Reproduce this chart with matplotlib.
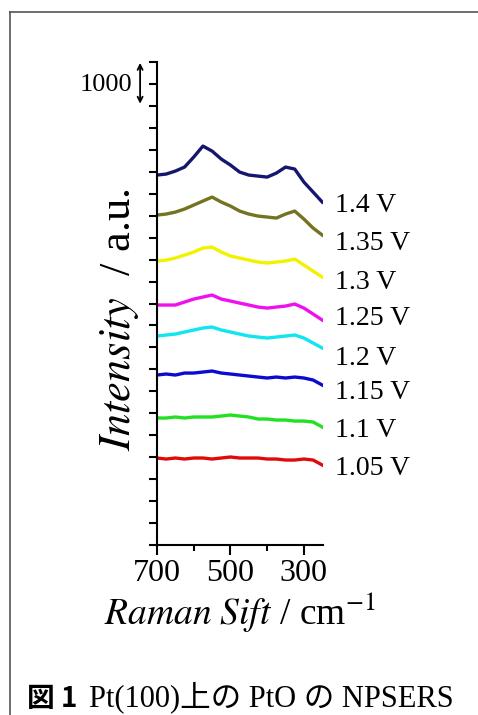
import numpy as np
import matplotlib
matplotlib.use("Agg")
import matplotlib.pyplot as plt
from matplotlib.lines import Line2D

# Raman shift axis (cm-1), values every 25 cm-1
shift = [700, 675, 650, 625, 600, 575, 550, 525, 500, 475,
         450, 425, 400, 375, 350, 325, 300, 275, 250]

# intensities (offset traces)
i_140 = [8425, 8448, 8516, 8607, 8835, 9085, 8971, 8789, 8653, 8493,
         8425, 8402, 8379, 8470, 8607, 8562, 8265, 8038, 7810]
i_135 = [7514, 7537, 7582, 7651, 7742, 7833, 7924, 7810, 7719, 7605,
         7537, 7491, 7469, 7446, 7537, 7605, 7423, 7218, 7059]
i_130 = [6467, 6489, 6535, 6603, 6672, 6763, 6785, 6672, 6581, 6535,
         6489, 6444, 6421, 6444, 6467, 6512, 6376, 6239, 6102]
i_125 = [5465, 5465, 5465, 5533, 5601, 5647, 5693, 5601, 5556, 5510,
         5465, 5419, 5396, 5419, 5442, 5488, 5396, 5260, 5123]
i_120 = [4759, 4782, 4804, 4850, 4896, 4941, 4964, 4896, 4850, 4804,
         4759, 4736, 4713, 4736, 4759, 4782, 4713, 4600, 4486]
i_115 = [3871, 3894, 3871, 3916, 3916, 3939, 3962, 3916, 3894, 3871,
         3848, 3825, 3803, 3825, 3803, 3825, 3803, 3757, 3643]
i_110 = [2892, 2892, 2915, 2892, 2915, 2915, 2915, 2937, 2960, 2937,
         2915, 2869, 2869, 2846, 2846, 2823, 2823, 2801, 2687]
i_105 = [1981, 1958, 1981, 1958, 1981, 1981, 1958, 1981, 2004, 1981,
         1981, 1981, 1958, 1958, 1935, 1935, 1958, 1935, 1822]

potentials = ["1.4 V", "1.35 V", "1.3 V", "1.25 V", "1.2 V", "1.15 V", "1.1 V", "1.05 V"]
traces = [i_140, i_135, i_130, i_125, i_120, i_115, i_110, i_105]
colors = ["#16166e", "#737320", "#f2f200", "#ee10ee", "#10e6f0", "#0a0ad2", "#22e022", "#e00a0a"]
label_y = [7742, 6877, 5989, 5169, 4258, 3484, 2619, 1753]

plt.rcParams["font.family"] = ["Liberation Serif", "Noto Sans CJK JP"]
plt.rcParams["mathtext.fontset"] = "stix"

W, H = 478, 715
fig = plt.figure(figsize=(W / 100, H / 100), dpi=100)
ax = fig.add_axes([157 / W, 1 - 545 / H, 166 / W, 483 / H])

for y, c in zip(traces, colors):
    ax.plot(shift, y, color=c, lw=2.4)

for lab, ly in zip(potentials, label_y):
    ax.text(216, ly, lab, fontsize=20, va="center", ha="left", clip_on=False)

ax.set_xlim(700, 248)
ax.set_ylim(0, 11000)
ax.set_xticks([700, 500, 300])
ax.set_xticks([600, 400], minor=True)
ax.set_yticks(np.arange(0, 11001, 500))
ax.set_yticklabels([])
for s in ["top", "right"]:
    ax.spines[s].set_visible(False)
for s in ["left", "bottom"]:
    ax.spines[s].set_linewidth(1.5)
ax.tick_params(axis="x", which="major", length=7, width=1.5, labelsize=23, pad=3)
ax.tick_params(axis="x", which="minor", length=4, width=1.5)
ax.tick_params(axis="y", length=6, width=1.5)

ax.set_xlabel(r"$\it{Raman\ Sift}$ / cm$^{-1}$", fontsize=27, labelpad=2)
ax.set_ylabel(r"$\it{Intensity}$  / a.u.", fontsize=32)
ax.yaxis.set_label_coords(-0.095, 0.466)

# scale bar
ax.annotate("", xy=(746, 10980), xytext=(746, 10050), annotation_clip=False,
            arrowprops=dict(arrowstyle="<->", lw=1.3, color="black",
                            shrinkA=0, shrinkB=0, mutation_scale=9))
ax.text(766, 10474, "1000", fontsize=19, ha="right", va="center", clip_on=False)

# frame around the figure
fig.add_artist(Line2D([10 / W, 1], [1 - 12 / H, 1 - 12 / H], color="#555555", lw=1.2))
fig.add_artist(Line2D([10 / W, 10 / W], [1 - 12 / H, 0], color="#555555", lw=1.2))

# caption
fig.text(27 / W, 1 - 707 / H, "図 1", fontsize=20, fontweight="bold",
         family=["Noto Sans CJK JP"], va="baseline", ha="left")
fig.text(89 / W, 1 - 706 / H, "Pt(100)上の PtO の NPSERS", fontsize=22,
         va="baseline", ha="left")

fig.savefig("out.png", dpi=100)
